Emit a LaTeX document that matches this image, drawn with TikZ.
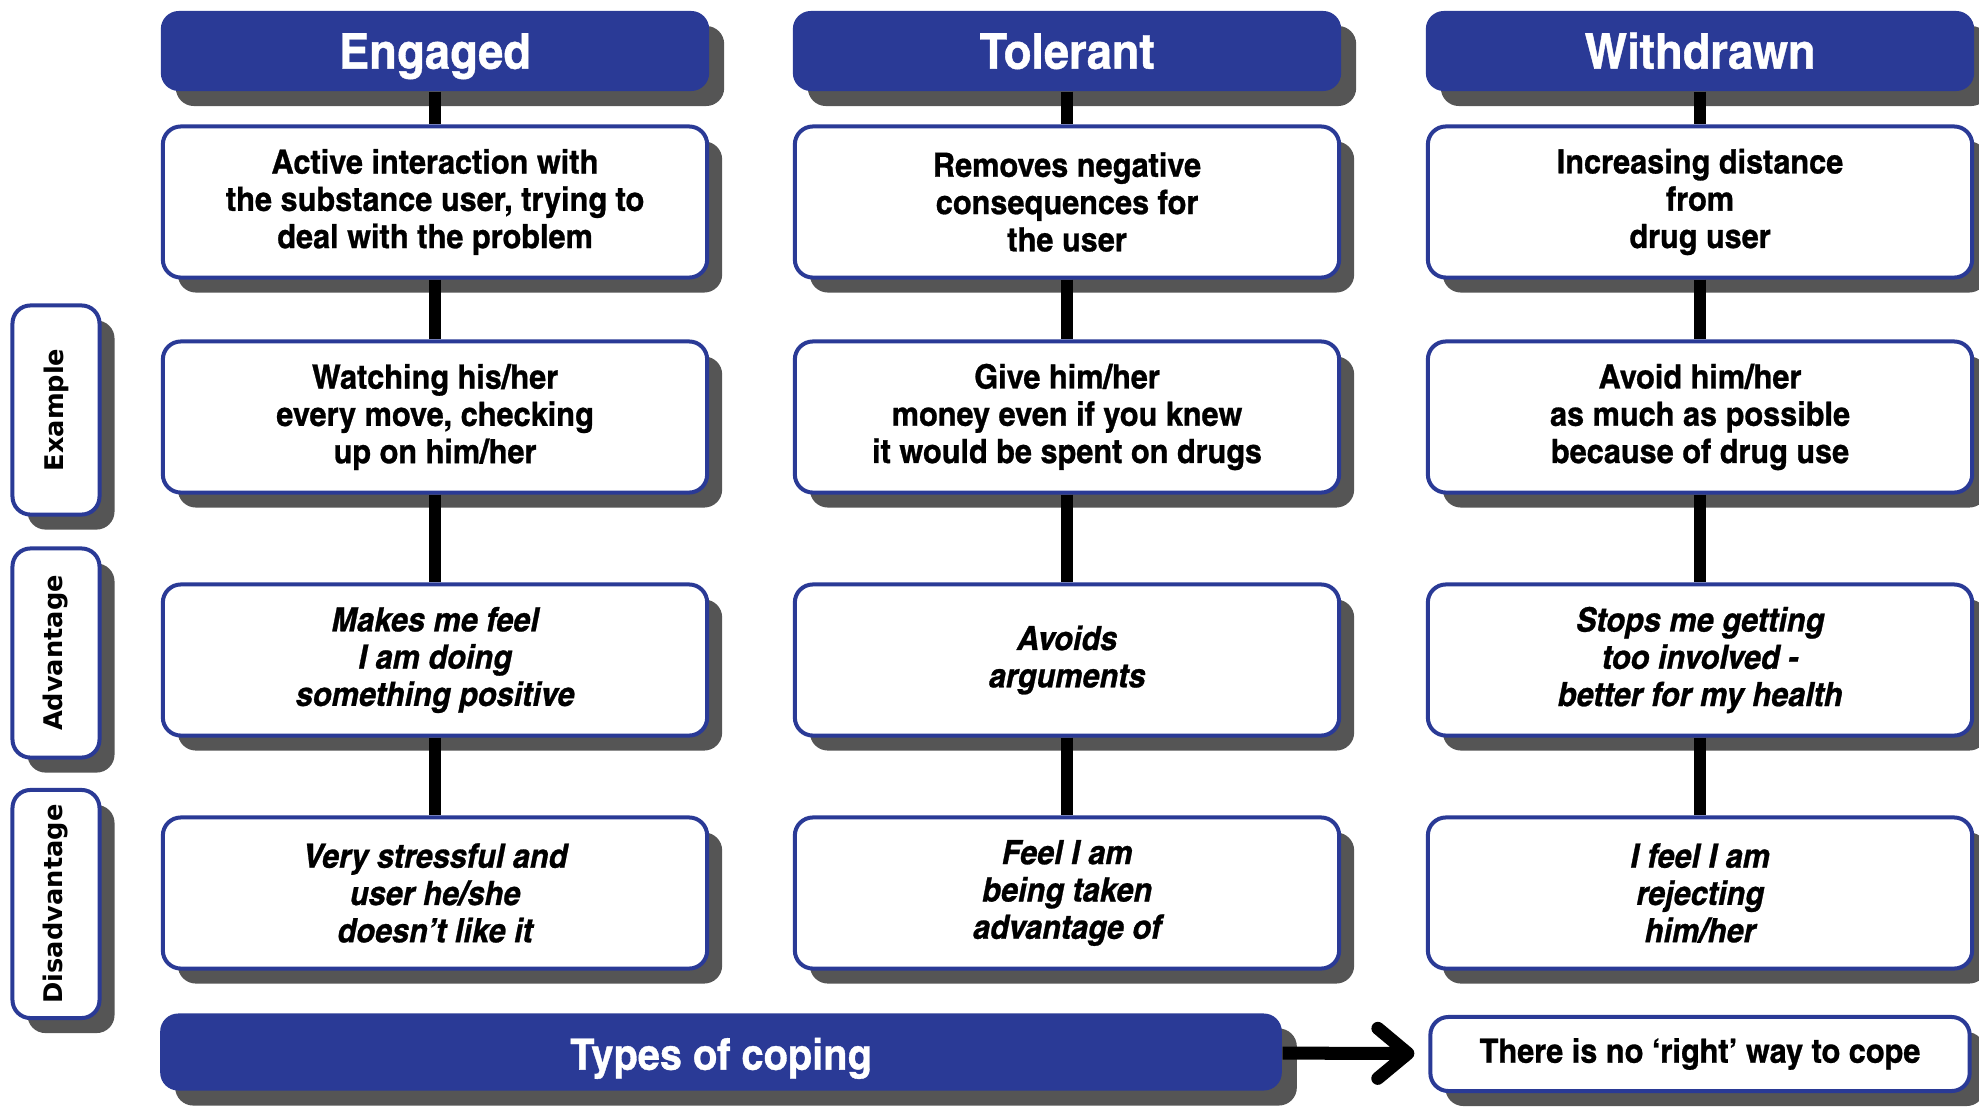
\documentclass[tikz,border=0pt]{standalone}
\usepackage{fontspec}
\usepackage{xcolor}
\usepackage{tikz}
\usetikzlibrary{shapes,shadows,arrows.meta}
\newfontfamily\dinfont{texgyreheroscn}[Extension=.otf, UprightFont=*-regular, BoldFont=*-bold, ItalicFont=*-italic, BoldItalicFont=*-bolditalic, FakeStretch=1.12, BoldFeatures={FakeBold=0.8}, BoldItalicFeatures={FakeBold=0.8}]
\newfontfamily\sidefont{DejaVu Sans}
\definecolor{copeBlue}{RGB}{42,58,150}
\definecolor{shadowGray}{RGB}{85,85,85}
\tikzstyle{tsShadow} = [
    drop shadow={shadow xshift=0.15cm, shadow yshift=-0.15cm, fill=shadowGray, opacity=1}
]
\tikzstyle{tsHeader} = [
    rectangle,
    rounded corners=0.18cm,
    tsShadow,
    fill=copeBlue,
    text=white,
    inner sep=0pt,
    text height=11pt,
    text depth=1pt,
    font=\dinfont\bfseries\fontsize{14}{16}\selectfont,
    minimum width=5.48cm,
    minimum height=0.8cm
]
\tikzstyle{tsBox} = [
    rectangle,
    rounded corners=0.18cm,
    tsShadow,
    draw=copeBlue,
    line width=0.04cm,
    fill=white,
    text=black,
    align=center,
    inner sep=0pt,
    font=\dinfont\bfseries\fontsize{9.5}{10.6}\selectfont,
    minimum width=5.44cm,
    minimum height=1.51cm
]
\tikzstyle{tsBoxItalic} = [
    tsBox,
    font=\dinfont\bfseries\itshape\fontsize{9.5}{10.6}\selectfont
]
\tikzstyle{tsSide} = [
    tsBox,
    font=\sidefont\bfseries\fontsize{7.3}{9}\selectfont,
    minimum width=0.87cm,
    minimum height=2.09cm
]
\tikzstyle{tsConnector} = [
    draw=black,
    line width=0.12cm
]
\tikzstyle{tsArrow} = [
    draw=black,
    line width=0.13cm,
    -{Straight Barb[length=0.3cm, width=0.5cm, line cap=round, line join=round]},
    shorten >=0.14cm
]

\begin{document}
\begin{tikzpicture}[x=0.01cm, y=-0.01cm]

    \useasboundingbox (0,0) rectangle (1979,1106);

    % column heads
    \node[tsHeader] (engaged) at (435,51) {Engaged};
    \node[tsHeader] (tolerant) at (1067,51) {Tolerant};
    \node[tsHeader] (withdrawn) at (1700,51) {Withdrawn};

    % engaged
    \node[tsBox] (engDesc) at (435,202)
        {Active interaction with\\the substance user, trying to\\deal with the problem};
    \node[tsBox] (engEx) at (435,417)
        {Watching his/her\\every move, checking\\up on him/her};
    \node[tsBoxItalic] (engAdv) at (435,660)
        {Makes me feel\\I am doing\\something positive};
    \node[tsBoxItalic] (engDis) at (435,893)
        {Very stressful and\\user he/she\\doesn’t like it};

    % tolerant
    \node[tsBox] (tolDesc) at (1067,202)
        {Removes negative\\consequences for\\the user};
    \node[tsBox] (tolEx) at (1067,417)
        {Give him/her\\money even if you knew\\it would be spent on drugs};
    \node[tsBoxItalic] (tolAdv) at (1067,660)
        {Avoids\\arguments};
    \node[tsBoxItalic] (tolDis) at (1067,893)
        {Feel I am\\being taken\\advantage of};

    % withdrawn
    \node[tsBox] (witDesc) at (1700,202)
        {Increasing distance\\from\\drug user};
    \node[tsBox] (witEx) at (1700,417)
        {Avoid him/her\\as much as possible\\because of drug use};
    \node[tsBoxItalic] (witAdv) at (1700,660)
        {Stops me getting\\too involved -\\better for my health};
    \node[tsBoxItalic] (witDis) at (1700,893)
        {I feel I am\\rejecting\\him/her};

    % row labels
    \node[tsSide] (sideEx) at (56,410) {\rotatebox{90}{Example}};
    \node[tsSide] (sideAdv) at (56,653) {\rotatebox{90}{Advantage}};
    \node[tsSide, minimum height=2.28cm] (sideDis) at (56,904) {\rotatebox{90}{Disadvantage}};

    % bottom line
    \node[tsHeader, minimum width=11.21cm, minimum height=0.77cm,
          font=\dinfont\bfseries\fontsize{12.3}{16}\selectfont] (coping) at (721,1052) {Types of coping};
    \node[tsBox, minimum width=5.39cm, minimum height=0.74cm,
          font=\dinfont\bfseries\fontsize{9.5}{11}\selectfont] (noright) at (1700,1054)
        {There is no ‘right’ way to cope};

    \draw[tsConnector] (engaged) -- (engDesc) -- (engEx) -- (engAdv) -- (engDis);
    \draw[tsConnector] (tolerant) -- (tolDesc) -- (tolEx) -- (tolAdv) -- (tolDis);
    \draw[tsConnector] (withdrawn) -- (witDesc) -- (witEx) -- (witAdv) -- (witDis);
    \draw[tsArrow] (coping) -- (noright);

\end{tikzpicture}
\end{document}
